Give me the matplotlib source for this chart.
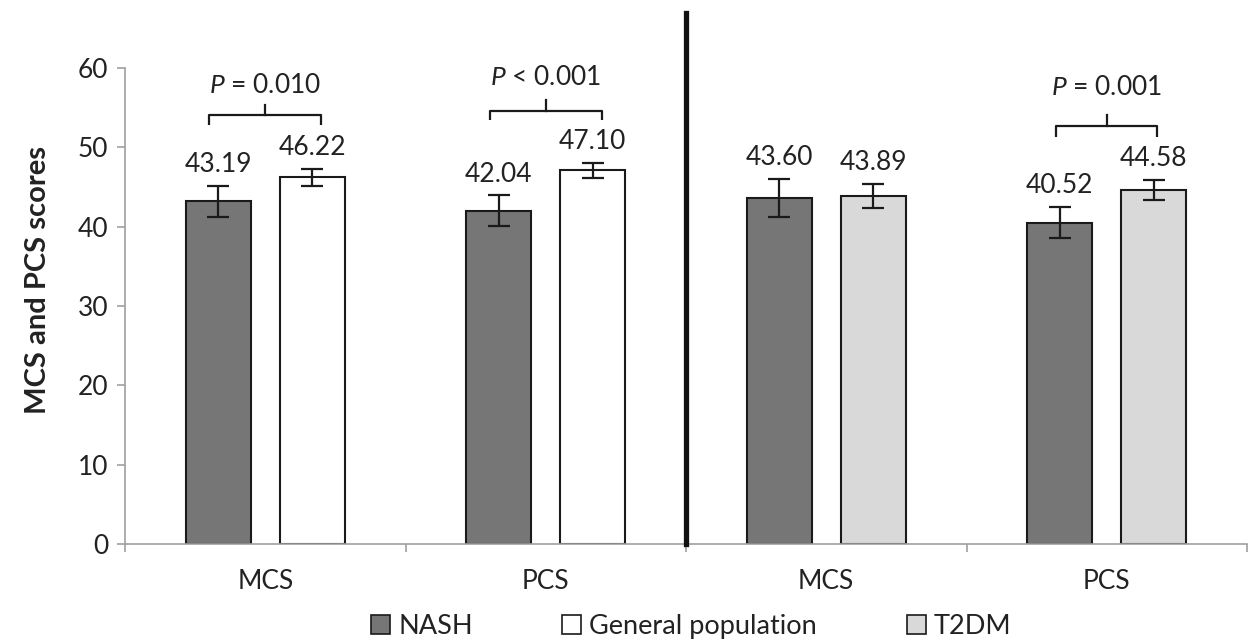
import matplotlib
matplotlib.use("Agg")
import matplotlib.pyplot as plt
from matplotlib.patches import Patch

plt.rcParams['font.family'] = ['Lato', 'DejaVu Sans']
plt.rcParams['mathtext.fontset'] = 'custom'
plt.rcParams['mathtext.it'] = 'Lato:italic'
plt.rcParams['mathtext.rm'] = 'Lato'

categories = ["MCS", "PCS", "MCS", "PCS"]
nash_vals = [43.19, 42.04, 43.60, 40.52]
nash_err = [2.0, 1.9, 2.4, 2.0]
gen_vals = [46.22, 47.10]
gen_err = [1.05, 0.9]
t2dm_vals = [43.89, 44.58]
t2dm_err = [1.55, 1.27]
p_labels = ["$P$ = 0.010", "$P$ < 0.001", "$P$ = 0.001"]
p_cats = [0, 1, 3]
bracket_y = [54.1, 54.6, 52.7]
bracket_leg = [52.8, 53.4, 51.3]
bracket_tick = [55.3, 56.0, 54.1]
p_text_y = [56.9, 57.9, 56.6]
bracket_half = [0.2, 0.2, 0.18]

c_nash = "#767676"
c_gen = "#ffffff"
c_t2dm = "#d9d9d9"
edge = "#1a1a1a"

fig = plt.figure(figsize=(12.5, 6.42), dpi=100)
ax = fig.add_axes([0.1, 0.1526, 0.8976, 0.7414])

x = list(range(len(categories)))
w = 0.232
off = 0.168
ekw = dict(ecolor=edge, elinewidth=1.6, capsize=8, capthick=1.6)

b1 = ax.bar([i - off for i in x], nash_vals, w, yerr=nash_err, color=c_nash,
            edgecolor=edge, linewidth=1.5, error_kw=ekw, label="NASH", zorder=2)
b2 = ax.bar([i + off for i in x[:2]], gen_vals, w, yerr=gen_err, color=c_gen,
            edgecolor=edge, linewidth=1.5, error_kw=ekw, label="General population", zorder=2)
b3 = ax.bar([i + off for i in x[2:]], t2dm_vals, w, yerr=t2dm_err, color=c_t2dm,
            edgecolor=edge, linewidth=1.5, error_kw=ekw, label="T2DM", zorder=2)

txtc = "#222222"
fs = 19
def label(xs, vals, errs):
    for xi, v, e in zip(xs, vals, errs):
        ax.annotate(f"{v:.2f}", (xi, v + e), xytext=(0, 10), textcoords="offset points",
                    ha="center", va="baseline", fontsize=fs, color=txtc)
label([i - off for i in x], nash_vals, nash_err)
label([i + off for i in x[:2]], gen_vals, gen_err)
label([i + off for i in x[2:]], t2dm_vals, t2dm_err)

for c, lab, by, bl, bt, ty, h in zip(p_cats, p_labels, bracket_y, bracket_leg,
                                     bracket_tick, p_text_y, bracket_half):
    ax.plot([c - h, c - h, c + h, c + h], [bl, by, by, bl], color=edge, lw=1.6,
            solid_joinstyle="round", solid_capstyle="butt", zorder=3)
    ax.plot([c, c], [by, bt], color=edge, lw=1.6, zorder=3)
    ax.text(c, ty, lab, ha="center", va="baseline", fontsize=fs, color=txtc)

# divider
ax.plot([1.5, 1.5], [0, 67.0], color="#111111", lw=3.8, clip_on=False, zorder=4)

ax.set_xlim(-0.5, 3.5)
ax.set_ylim(0, 60)
ax.set_yticks(range(0, 61, 10))
ax.set_xticks(x)
ax.set_xticklabels(categories)
ax.set_xticks([-0.5, 0.5, 1.5, 2.5, 3.5], minor=True)
ax.tick_params(axis="x", which="major", length=0, pad=18, labelsize=fs, labelcolor=txtc)
ax.tick_params(axis="x", which="minor", length=6, width=1.2, color="#a0a0a0", direction="out")
ax.tick_params(axis="y", length=6, width=1.2, color="#a0a0a0", labelsize=fs,
               labelcolor=txtc, pad=6)
for s in ["top", "right"]:
    ax.spines[s].set_visible(False)
for s in ["left", "bottom"]:
    ax.spines[s].set_color("#a0a0a0")
    ax.spines[s].set_linewidth(1.2)

ax.set_ylabel("MCS and PCS scores", fontsize=21, fontweight="bold", color=txtc)
ax.yaxis.set_label_coords(-0.066, 0.555)

handles = [Patch(facecolor=c_nash, edgecolor=edge, linewidth=1.2, label="NASH"),
           Patch(facecolor=c_gen, edgecolor=edge, linewidth=1.2, label="General population"),
           Patch(facecolor=c_t2dm, edgecolor=edge, linewidth=1.2, label="T2DM")]
fig.legend(handles=handles, loc="center", bbox_to_anchor=(0.553, 0.024), ncol=3,
           frameon=False, fontsize=19.5, handlelength=0.7, handleheight=0.7,
           handletextpad=0.3, columnspacing=3.3, labelcolor=txtc)

fig.savefig("out.png", dpi=100, facecolor="white")
